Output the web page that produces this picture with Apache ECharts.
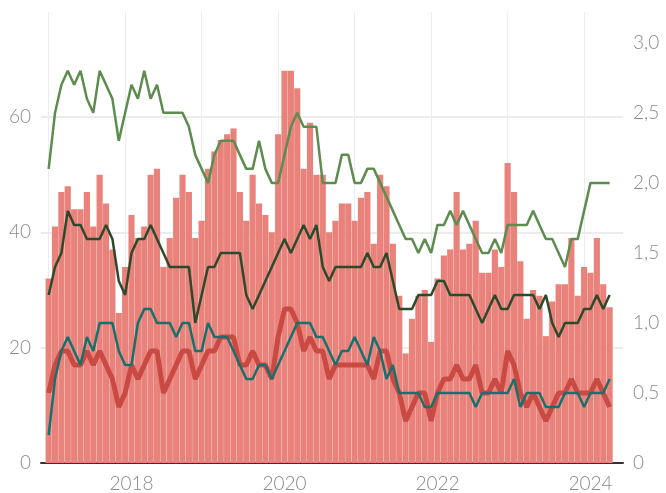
<!DOCTYPE html>
<html>
<head>
<meta charset="utf-8">
<script src="https://cdn.jsdelivr.net/npm/echarts@6/dist/echarts.min.js"></script>
<style>
  html, body { margin: 0; padding: 0; background: #fff; }
  #main { width: 666px; height: 493px; }
</style>
</head>
<body>
<div id="main"></div>
<script>
// monthly data, Jan 2017 .. May 2024 (index 0 = Jan 2017)
var firstYear = 2017;
var barValues = [32, 41, 47, 48, 44, 44, 47, 41, 50, 45, 37, 26,
    34, 43, 39, 41, 50, 51, 34, 39, 46, 50, 47, 39,
    42, 51, 54, 56, 57, 58, 47, 42, 50, 45, 43, 40,
    57, 68, 68, 65, 51, 59, 50, 50, 40, 42, 45, 45,
    42, 46, 47, 38, 50, 48, 38, 29, 19, 25, 29, 30,
    21, 32, 36, 37, 47, 37, 38, 42, 33, 33, 37, 34,
    52, 47, 35, 25, 30, 29, 22, 28, 31, 31, 39, 29,
    34, 33, 39, 31, 27];
var greenLine = [2.1, 2.5, 2.7, 2.8, 2.7, 2.8, 2.6, 2.5, 2.8, 2.7, 2.6, 2.3,
    2.5, 2.7, 2.6, 2.8, 2.6, 2.7, 2.5, 2.5, 2.5, 2.5, 2.4, 2.2,
    2.1, 2.0, 2.2, 2.3, 2.3, 2.3, 2.2, 2.1, 2.1, 2.3, 2.1, 2.0,
    2.0, 2.2, 2.4, 2.5, 2.4, 2.4, 2.4, 2.0, 2.0, 2.0, 2.2, 2.2,
    2.0, 2.0, 2.1, 2.1, 2.0, 1.9, 1.8, 1.7, 1.6, 1.6, 1.5, 1.6,
    1.5, 1.7, 1.7, 1.8, 1.7, 1.8, 1.7, 1.6, 1.5, 1.5, 1.6, 1.5,
    1.7, 1.7, 1.7, 1.7, 1.8, 1.7, 1.6, 1.6, 1.5, 1.4, 1.6, 1.6,
    1.8, 2.0, 2.0, 2.0, 2.0];
var darkGreenLine = [1.2, 1.4, 1.5, 1.8, 1.7, 1.7, 1.6, 1.6, 1.6, 1.7, 1.6, 1.3,
    1.2, 1.5, 1.6, 1.6, 1.7, 1.6, 1.5, 1.4, 1.4, 1.4, 1.4, 1.0,
    1.2, 1.4, 1.4, 1.5, 1.5, 1.5, 1.5, 1.2, 1.1, 1.2, 1.3, 1.4,
    1.5, 1.6, 1.5, 1.6, 1.7, 1.6, 1.7, 1.4, 1.3, 1.4, 1.4, 1.4,
    1.4, 1.4, 1.5, 1.4, 1.4, 1.5, 1.3, 1.1, 1.1, 1.1, 1.2, 1.2,
    1.2, 1.3, 1.3, 1.2, 1.2, 1.2, 1.2, 1.1, 1.0, 1.1, 1.2, 1.1,
    1.1, 1.2, 1.2, 1.2, 1.2, 1.1, 1.2, 1.0, 0.9, 1.0, 1.0, 1.0,
    1.1, 1.1, 1.2, 1.1, 1.2];
var tealLine = [0.2, 0.6, 0.8, 0.9, 0.8, 0.7, 0.9, 0.8, 1.0, 1.0, 1.0, 0.8,
    0.7, 0.7, 1.0, 1.1, 1.1, 1.0, 1.0, 1.0, 0.9, 1.0, 1.0, 0.8,
    0.8, 1.0, 0.9, 0.9, 0.9, 0.8, 0.7, 0.6, 0.6, 0.7, 0.7, 0.6,
    0.7, 0.8, 0.9, 1.0, 1.0, 1.0, 0.9, 0.9, 0.8, 0.7, 0.8, 0.8,
    0.9, 0.8, 0.7, 0.9, 0.8, 0.6, 0.7, 0.5, 0.5, 0.5, 0.5, 0.4,
    0.4, 0.5, 0.5, 0.5, 0.5, 0.5, 0.5, 0.4, 0.5, 0.5, 0.5, 0.5,
    0.5, 0.6, 0.4, 0.5, 0.5, 0.5, 0.4, 0.4, 0.4, 0.5, 0.5, 0.5,
    0.4, 0.5, 0.5, 0.5, 0.6];
var redLine = [0.5, 0.7, 0.8, 0.8, 0.7, 0.7, 0.8, 0.7, 0.8, 0.7, 0.6, 0.4,
    0.5, 0.7, 0.6, 0.7, 0.8, 0.8, 0.5, 0.6, 0.7, 0.8, 0.8, 0.6,
    0.7, 0.8, 0.8, 0.9, 0.9, 0.9, 0.7, 0.7, 0.8, 0.7, 0.7, 0.6,
    0.9, 1.1, 1.1, 1.0, 0.8, 0.9, 0.8, 0.8, 0.6, 0.7, 0.7, 0.7,
    0.7, 0.7, 0.7, 0.6, 0.8, 0.8, 0.6, 0.5, 0.3, 0.4, 0.5, 0.5,
    0.3, 0.5, 0.6, 0.6, 0.7, 0.6, 0.6, 0.7, 0.5, 0.5, 0.6, 0.5,
    0.8, 0.7, 0.5, 0.4, 0.5, 0.4, 0.3, 0.4, 0.5, 0.5, 0.6, 0.5,
    0.5, 0.5, 0.6, 0.5, 0.4];
var yearLabels = ['2018', '2020', '2022', '2024'];
var leftTicks = [0, 20, 40, 60];
var rightTicks = [0, 0.5, 1, 1.5, 2, 2.5, 3];

function pairs(arr) {
    return arr.map(function (v, i) { return [i, v]; });
}

function init() {
    var myChart = echarts.init(document.getElementById('main'));

    var yearLines = [];
    for (var m = 0; m < barValues.length; m += 12) yearLines.push(m);
    var labelPos = yearLabels.map(function (y) { return (parseInt(y, 10) - firstYear) * 12 + 1; });

    var font = 'Lato';
    var option = {
        animation: false,
        grid: { left: 41, right: 43, top: 12, bottom: 30, containLabel: false },
        xAxis: {
            type: 'value',
            min: -1.2,
            max: 90.1,
            axisLine: { show: true, lineStyle: { color: '#3a3232', width: 2 } },
            axisTick: { show: false, customValues: yearLines },
            splitLine: { show: true, lineStyle: { color: '#ececec', width: 1 } },
            axisLabel: {
                customValues: labelPos,
                color: '#8a8a8a', fontFamily: font, fontWeight: 300, fontSize: 19, margin: 11,
                formatter: function (v) { return String(firstYear + Math.floor(v / 12)); }
            }
        },
        yAxis: [{
            type: 'value',
            min: 0,
            max: 78.2,
            axisLine: { show: false },
            axisTick: { show: false, customValues: leftTicks },
            splitLine: { show: true, lineStyle: { color: '#ececec', width: 2 } },
            axisLabel: {
                customValues: leftTicks,
                color: '#8a8a8a', fontFamily: font, fontWeight: 300, fontSize: 19, margin: 10
            }
        }, {
            type: 'value',
            min: 0,
            max: 3.22,
            position: 'right',
            axisLine: { show: false },
            axisTick: { show: false, customValues: rightTicks },
            splitLine: { show: false },
            axisLabel: {
                customValues: rightTicks,
                color: '#8a8a8a', fontFamily: font, fontWeight: 300, fontSize: 19, margin: 10,
                formatter: function (v) { return v === 0 ? '0' : v.toFixed(1).replace('.', ','); }
            }
        }],
        series: [{
            type: 'bar',
            yAxisIndex: 0,
            barWidth: 6.15,
            itemStyle: { color: '#ea827c' },
            data: pairs(barValues),
            z: 1
        }, {
            type: 'line',
            yAxisIndex: 1,
            symbol: 'none',
            lineStyle: { color: '#c94a43', width: 5 },
            data: pairs(redLine),
            z: 3
        }, {
            type: 'line',
            yAxisIndex: 1,
            symbol: 'none',
            lineStyle: { color: '#17706b', width: 2.5 },
            data: pairs(tealLine),
            z: 4
        }, {
            type: 'line',
            yAxisIndex: 1,
            symbol: 'none',
            lineStyle: { color: '#2c4a2b', width: 2.5 },
            data: pairs(darkGreenLine),
            z: 5
        }, {
            type: 'line',
            yAxisIndex: 1,
            symbol: 'none',
            lineStyle: { color: '#5d8c4e', width: 2.5 },
            data: pairs(greenLine),
            z: 6
        }]
    };

    myChart.setOption(option);
}

init();
</script>
</body>
</html>
